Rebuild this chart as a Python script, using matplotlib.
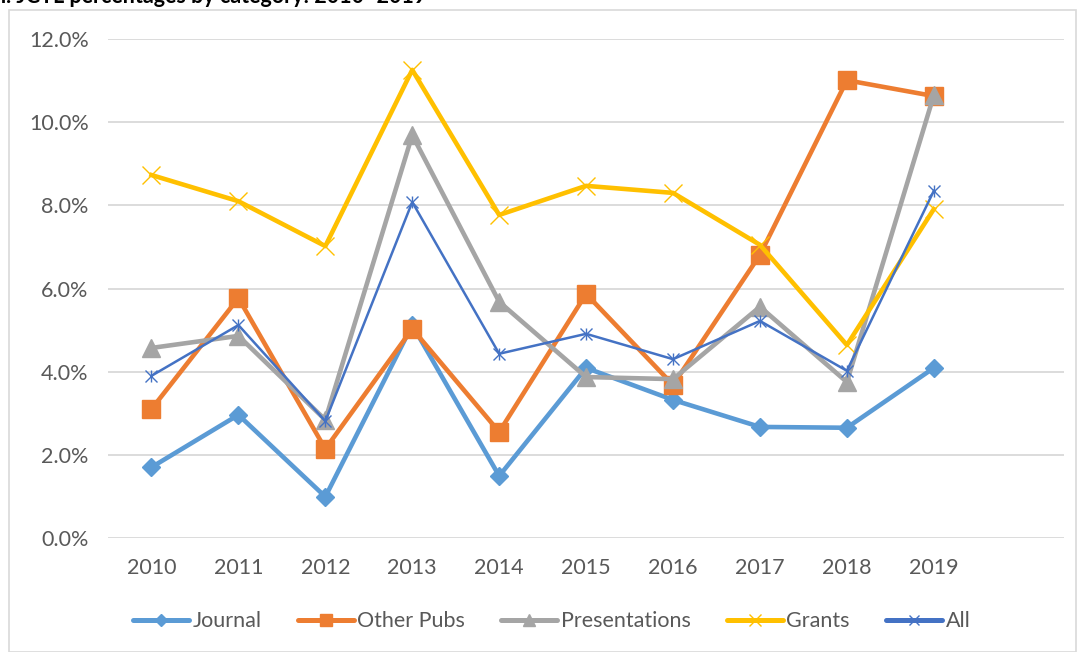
import matplotlib.pyplot as plt
from matplotlib.lines import Line2D
from matplotlib.patches import Rectangle
from matplotlib.ticker import FuncFormatter

# =========================
# DATA
# =========================
years = ["2010", "2011", "2012", "2013", "2014", "2015", "2016", "2017", "2018", "2019"]

journal = [1.70, 2.96, 0.99, 5.12, 1.49, 4.09, 3.32, 2.67, 2.65, 4.09]
other_pubs = [3.10, 5.77, 2.14, 5.03, 2.55, 5.87, 3.68, 6.81, 11.01, 10.63]
presentations = [4.57, 4.86, 2.84, 9.69, 5.68, 3.87, 3.82, 5.56, 3.75, 10.65]
grants = [8.73, 8.10, 7.02, 11.26, 7.77, 8.47, 8.30, 7.05, 4.64, 7.91]
all_cats = [3.90, 5.12, 2.81, 8.08, 4.43, 4.91, 4.30, 5.22, 4.02, 8.35]

title = "n. JCTL percentages by category: 2010\u20132019"

# =========================
# PLOT
# =========================
plt.rcParams["font.family"] = ["Lato", "DejaVu Sans"]

fig = plt.figure(figsize=(10.78, 6.52), dpi=100)
ax = fig.add_axes([0.1002, 0.175, 0.887, 0.765])

x = list(range(len(years)))

ax.plot(x, journal, color="#5B9BD5", lw=3.3, marker="D", ms=9, zorder=3)
ax.plot(x, other_pubs, color="#ED7D31", lw=3.3, marker="s", ms=13, zorder=3)
ax.plot(x, presentations, color="#A5A5A5", lw=3.3, marker="^", ms=13, zorder=3)
ax.plot(x, grants, color="#FFC000", lw=3.3, marker="x", ms=13, mew=1.0, zorder=3)
ax.plot(x, all_cats, color="#4472C4", lw=1.8, marker="x", ms=9, mew=1.0, zorder=4)
# extra arm for the star marker of "All"
ax.plot(x, all_cats, color="#4472C4", lw=0, marker="|", ms=9, mew=1.0, zorder=4)

ax.set_xlim(-0.5, len(years) + 0.5)
ax.set_ylim(0, 12)
ax.set_xticks(x)
ax.set_xticklabels(years)
ax.set_yticks([0, 2, 4, 6, 8, 10, 12])
ax.yaxis.set_major_formatter(FuncFormatter(lambda v, p: f"{v:.1f}%"))

ax.grid(axis="y", color="#D9D9D9", lw=1.3)
ax.set_axisbelow(True)
for s in ax.spines.values():
    s.set_visible(False)
ax.tick_params(axis="both", length=0, labelsize=15.5, colors="#595959")
ax.tick_params(axis="x", pad=14.5)
ax.tick_params(axis="y", pad=14)

# legend with small markers
styles = [
    ("Journal", "#5B9BD5", "D", 6, 1.0),
    ("Other Pubs", "#ED7D31", "s", 8, 1.0),
    ("Presentations", "#A5A5A5", "^", 8, 1.0),
    ("Grants", "#FFC000", "x", 8, 1.0),
    ("All", "#4472C4", "x", 7, 1.0),
]
handles = [Line2D([], [], color=c, lw=3.6, marker=m, ms=ms, mew=mew,
                  solid_capstyle="round", label=lab)
           for lab, c, m, ms, mew in styles]
leg = ax.legend(handles=handles, loc="center", bbox_to_anchor=(0.464, -0.167), ncol=5,
                frameon=False, fontsize=15.5, handlelength=2.6,
                columnspacing=1.7, handletextpad=0.15)
for t in leg.get_texts():
    t.set_color("#595959")

# chart border
fig.patches.append(Rectangle((0.008, 0.0), 0.99, 0.985, transform=fig.transFigure,
                             fill=False, edgecolor="#D9D9D9", lw=1.2))

# clipped title at the very top
fig.text(-0.006, 1.006, title, fontsize=15.5, fontweight="bold", color="black",
         ha="left", va="center")

fig.savefig("out.png", dpi=100)
